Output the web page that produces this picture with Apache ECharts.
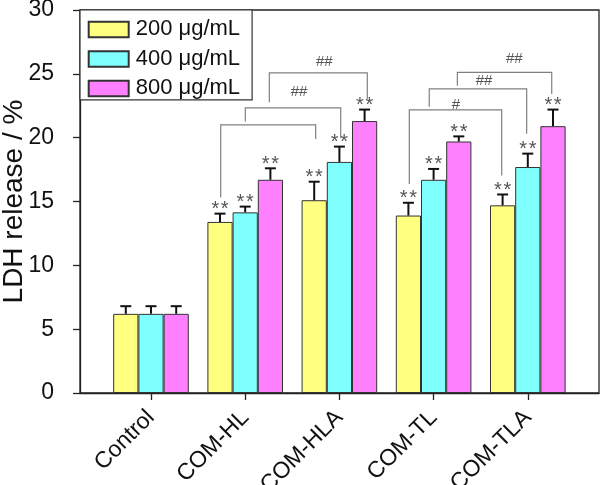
<!DOCTYPE html>
<html><head><meta charset="utf-8">
<script src="https://cdn.jsdelivr.net/npm/echarts@6/dist/echarts.min.js"></script>
<style>html,body{margin:0;padding:0;background:#fff}#c{width:600px;height:485px}</style>
</head><body><div id="c"></div>
<script>
// ---- data ----
const categories = ['Control', 'COM-HL', 'COM-HLA', 'COM-TL', 'COM-TLA'];
const seriesNames = ['200 \u03bcg/mL', '400 \u03bcg/mL', '800 \u03bcg/mL'];
const v200 = [6.2, 13.4, 15.1, 13.9, 14.7];
const v400 = [6.2, 14.15, 18.1, 16.7, 17.7];
const v800 = [6.2, 16.7, 21.3, 19.7, 20.9];
const e200 = [0.6, 0.65, 1.45, 1.0, 0.85];
const e400 = [0.6, 0.45, 1.2, 0.85, 1.05];
const e800 = [0.6, 0.9, 0.9, 0.4, 1.3];
const sig200 = ['', '**', '**', '**', '**'];
const sig400 = ['', '**', '**', '**', '**'];
const sig800 = ['', '**', '**', '**', '**'];
const yTicks = [0, 5, 10, 15, 20, 25, 30];
// brackets: [xLeft, xRight, yTop, yLeftEnd, yRightEnd] (x in category units, y in %)
const bracketSpans = [
  [0.740, 1.748, 21.0, 15.34, 19.9],
  [1.001, 2.014, 22.33, 21.26, 20.0],
  [1.256, 2.296, 25.07, 22.77, 23.03],
  [2.742, 3.723, 22.18, 16.38, 17.03],
  [2.954, 3.988, 23.82, 22.43, 20.3],
  [3.252, 4.254, 25.12, 24.07, 23.43]
];
// bracket labels: [x, y, text]
const bracketLabels = [
  [1.571, 23.55, '##'],
  [1.84, 25.9, '##'],
  [3.238, 22.59, '#'],
  [3.535, 24.47, '##'],
  [3.857, 26.17, '##']
];

// ---- styles ----
const colors = ['#FFFF80', '#80FFFF', '#FF80FF'];
const FONT = 'Liberation Sans, Arial, sans-serif';
const BAR_W = 25.2;
const values = [v200, v400, v800];
const errs = [e200, e400, e800];
const sigs = [sig200, sig400, sig800];

const chart = echarts.init(document.getElementById('c'), null, {renderer: 'canvas'});

const barSeries = seriesNames.map((n, k) => ({
  name: n, type: 'bar', xAxisIndex: 1, yAxisIndex: 1,
  barWidth: BAR_W, barGap: '0%',
  itemStyle: {color: colors[k], borderColor: '#333', borderWidth: 1},
  data: values[k], z: 2
}));

const errData = [];
for (let k = 0; k < 3; k++) {
  for (let i = 0; i < categories.length; i++) {
    errData.push([i, values[k][i], errs[k][i], k, sigs[k][i]]);
  }
}

const errSeries = {
  type: 'custom', xAxisIndex: 1, yAxisIndex: 1, z: 5,
  data: errData,
  encode: {x: 0, y: 1},
  renderItem: function (params, api) {
    const i = api.value(0), v = api.value(1), e = api.value(2), k = api.value(3);
    const sig = errData[params.dataIndex][4];
    const base = api.coord([i, v]);
    const top = api.coord([i, v + e]);
    const x = base[0] + (k - 1) * BAR_W;
    const children = [
      {type: 'line', shape: {x1: x, y1: base[1], x2: x, y2: top[1]}, style: {stroke: '#111', lineWidth: 2}},
      {type: 'line', shape: {x1: x - 5.5, y1: top[1], x2: x + 5.5, y2: top[1]}, style: {stroke: '#111', lineWidth: 2}}
    ];
    if (sig) {
      children.push({type: 'text', x: x, y: top[1] - 4,
        style: {text: sig.split('').join('\u200a'), fill: '#555', font: '20px ' + FONT, align: 'center', verticalAlign: 'middle'}});
    }
    return {type: 'group', children: children};
  }
};

const bracketSeries = {
  type: 'custom', xAxisIndex: 2, yAxisIndex: 1, z: 4,
  data: bracketSpans,
  encode: {x: [0, 1], y: [2, 3, 4]},
  renderItem: function (params, api) {
    const x1 = api.value(0), x2 = api.value(1), yt = api.value(2), yl = api.value(3), yr = api.value(4);
    const p = [api.coord([x1, yl]), api.coord([x1, yt]), api.coord([x2, yt]), api.coord([x2, yr])];
    return {type: 'polyline', shape: {points: p}, style: {stroke: '#808080', lineWidth: 1.2, fill: null}};
  }
};

const bracketLabelSeries = {
  type: 'custom', xAxisIndex: 2, yAxisIndex: 1, z: 4,
  data: bracketLabels,
  encode: {x: 0, y: 1},
  renderItem: function (params, api) {
    const p = api.coord([api.value(0), api.value(1)]);
    return {type: 'text', x: p[0], y: p[1],
      style: {text: bracketLabels[params.dataIndex][2], fill: '#555', font: '15px ' + FONT, align: 'center', verticalAlign: 'middle'}};
  }
};

const option = {
  animation: false,
  backgroundColor: '#fff',
  textStyle: {fontFamily: FONT},
  grid: [
    {left: 80, right: 1, top: 10, bottom: 92, show: true, borderColor: '#222', borderWidth: 1.3, backgroundColor: 'transparent',
      containLabel: false, outerBoundsMode: 'none'},
    {left: 103.9, right: 25.1, top: 10, bottom: 92, containLabel: false, outerBoundsMode: 'none'}
  ],
  legend: {
    data: seriesNames, orient: 'vertical', left: 80, top: 10,
    icon: 'rect', itemWidth: 40, itemHeight: 15.5, itemGap: 7.5,
    padding: [8.4, 12, 0.5, 7.7],
    borderColor: '#333', borderWidth: 1.2, backgroundColor: '#fff',
    textStyle: {fontSize: 22, color: '#111', padding: [0, 0, 0, 2], fontFamily: FONT},
    z: 10
  },
  xAxis: [
    {gridIndex: 0, type: 'value', min: 0, max: 1, axisLine: {show: true, onZero: false, lineStyle: {color: '#222', width: 1.3}},
      axisTick: {show: false}, axisLabel: {show: false}, splitLine: {show: false}},
    {gridIndex: 1, type: 'category', data: categories, axisLine: {show: false, onZero: false},
      axisTick: {show: true, alignWithLabel: true, length: 7, lineStyle: {color: '#222', width: 1.3}},
      axisLabel: {rotate: 45, fontSize: 23, color: '#111', margin: 21, interval: 0, fontFamily: FONT},
      splitLine: {show: false}},
    {gridIndex: 1, type: 'value', min: -0.5, max: 4.5, show: false}
  ],
  yAxis: [
    {gridIndex: 0, type: 'value', min: 0, max: 30, interval: 5,
      axisLine: {show: true, onZero: false, lineStyle: {color: '#222', width: 1.3}},
      axisTick: {show: true, length: 7, lineStyle: {color: '#222', width: 1.3}},
      axisLabel: {fontSize: 23, color: '#111', margin: 26, fontFamily: FONT,
        formatter: v => yTicks.indexOf(v) >= 0 ? String(v) : ''},
      splitLine: {show: false},
      name: 'LDH release / %', nameLocation: 'middle', nameGap: 52, nameMoveOverlap: false,
      nameTextStyle: {fontSize: 28, color: '#111', fontFamily: FONT}},
    {gridIndex: 1, type: 'value', min: 0, max: 30, show: false}
  ],
  series: [...barSeries, errSeries, bracketSeries, bracketLabelSeries]
};
chart.setOption(option);
</script>
</body></html>
